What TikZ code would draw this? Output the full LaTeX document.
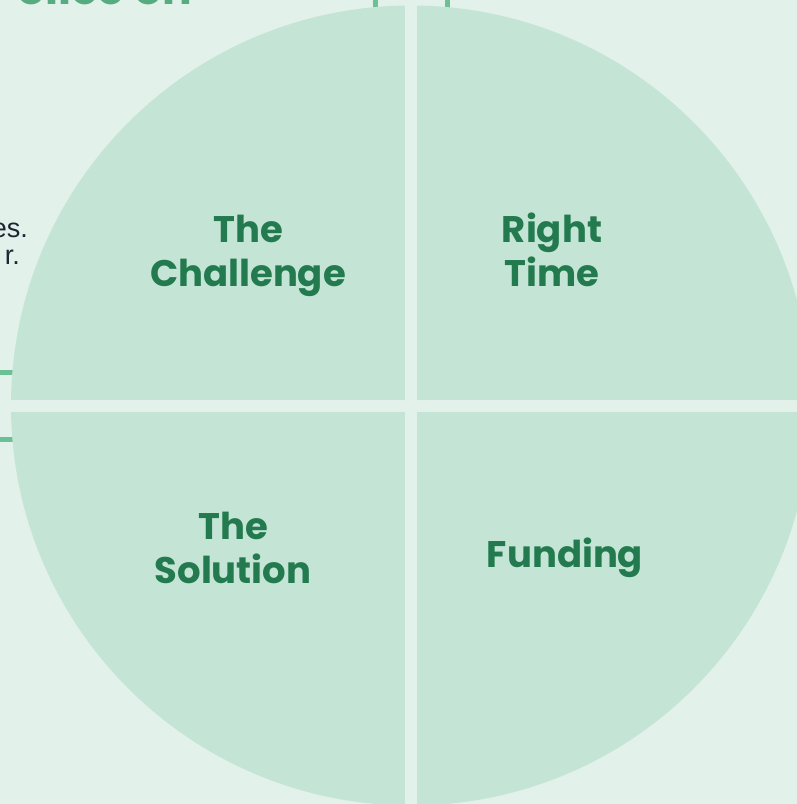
\documentclass[tikz,border=0pt]{standalone}
\usepackage{fontspec}
\setmainfont{Liberation Sans}
\newfontfamily\quarterfont{Poppins}
\definecolor{bggreen}{HTML}{E2F1EA}
\definecolor{diskgreen}{HTML}{C4E5D6}
\definecolor{labelgreen}{HTML}{237A4F}
\definecolor{tickgreen}{HTML}{6CC096}
\definecolor{bodytext}{HTML}{1E2633}

\begin{document}
\begin{tikzpicture}[x=1pt,y=-1pt,
  quarter/.style={font=\quarterfont\bfseries\fontsize{37}{44}\selectfont,
    text=labelgreen,align=center,inner sep=0pt},
  sidetext/.style={font=\fontsize{27}{30}\selectfont,text=bodytext,inner sep=0pt}]
\useasboundingbox (0,0) rectangle (797,804);
\clip (0,0) rectangle (797,804);
\fill[bggreen] (0,0) rectangle (797,804);
% heading and text cut off by the frame
\node[font=\quarterfont\bfseries\fontsize{44}{50}\selectfont,text=tickgreen!70!labelgreen,
  anchor=base east,inner sep=0pt] (heading) at (192,4) {olice on};
\node[sidetext,anchor=base east] (line1) at (28,237) {es.};
\node[sidetext,anchor=base east] (line2) at (20,264) {r.};
% ticks behind the disk
\fill[tickgreen] (372.5,0) rectangle ++(5,20);
\fill[tickgreen] (445,0) rectangle ++(5,20);
\fill[tickgreen] (0,370) rectangle ++(30,5);
\fill[tickgreen] (0,436.5) rectangle ++(30,5);
% disk cut in four
\fill[diskgreen] (411,405.5) circle (400);
\fill[bggreen] (405,0) rectangle (417,804);
\fill[bggreen] (0,399.5) rectangle (797,411.5);
\node[quarter] (challenge) at (248,256) {The\\Challenge};
\node[quarter] (righttime) at (552,250) {Right\\Time};
\node[quarter] (solution) at (233,548) {The\\Solution};
\node[quarter] (funding) at (565,558) {Funding};
\end{tikzpicture}
\end{document}
